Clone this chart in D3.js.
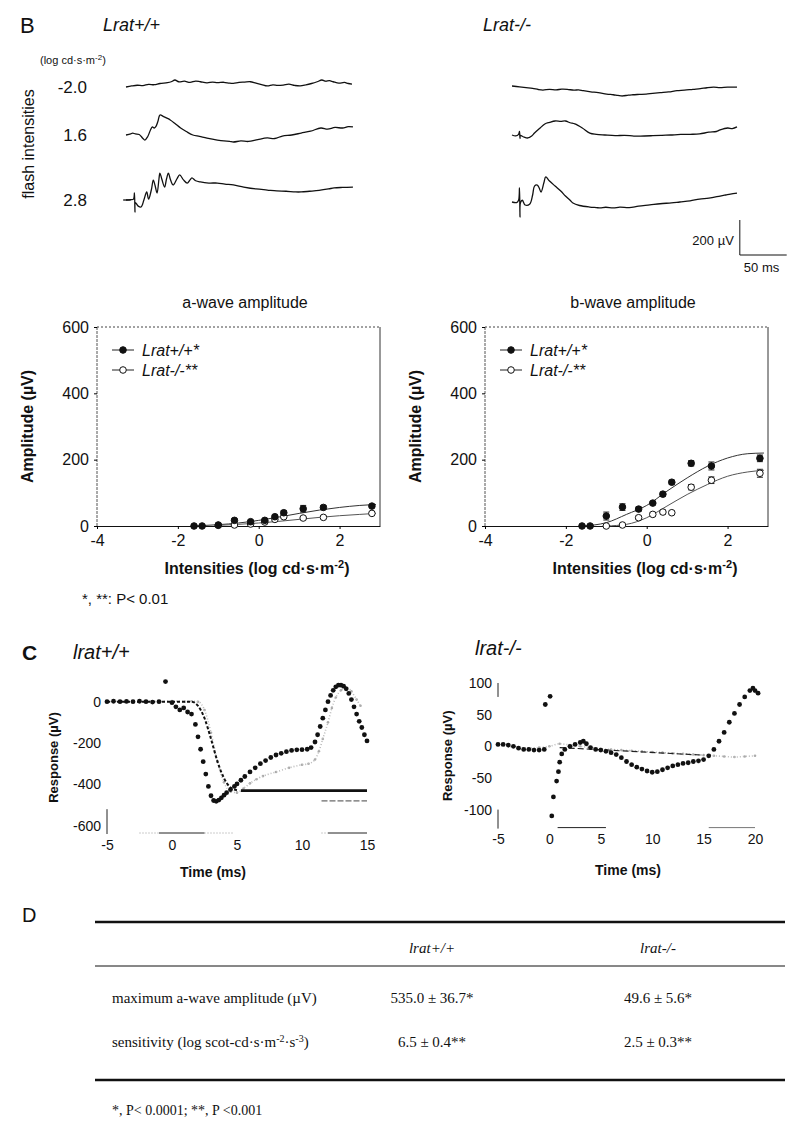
<!DOCTYPE html>
<html>
<head>
<meta charset="utf-8">
<script src="https://cdn.jsdelivr.net/npm/d3@7"></script>
<style>
  body { margin: 0; background: #fff; }
  text { fill: #111; }
</style>
</head>
<body>
<div id="chart"></div>
<script>
// ---- Panel B: ERG traces, [time ms, amplitude uV]
const flashLabels = ['-2.0', '1.6', '2.8'];
const wtLow = [[0,0],[6,6],[12,10],[18,8],[24,15],[30,13],[36,20],[44,25],[48,30],[52,40],[56,30],[62,33],[68,26],[74,34],[79,30],[86,24],[92,28],[97,25],[104,27],[110,22],[114,21],[120,26],[126,28],[132,30],[138,22],[144,14],[150,6],[156,12],[161,9],[167,11],[173,16],[179,9],[185,6],[191,12],[197,20],[203,30],[208,40],[212,33],[216,36],[220,30],[226,22],[232,26],[236,20],[240,17]];
const wtMid = [[0,0],[5,6],[7,11],[10,6],[14,3],[18,-20],[20,-29],[23,-10],[26,29],[28,46],[30,40],[32,51],[34,80],[36,114],[40,105],[44,95],[47,86],[52,66],[58,40],[64,20],[71,0],[78,-8],[86,-18],[97,-29],[104,-34],[110,-36],[114,-40],[122,-34],[130,-37],[140,-26],[150,-17],[158,-20],[166,-6],[176,0],[186,11],[196,22],[207,40],[214,34],[222,43],[230,40],[236,48],[241,46]];
const wtHigh = [[0,0],[5,2],[8,5],[9,40],[9.5,-69],[10,-15],[13,-35],[16,-40],[19,0],[22,46],[24,5],[27,60],[29,114],[31,80],[33,40],[35,120],[36,154],[38,120],[41,74],[43,120],[45,154],[47,120],[50,86],[54,120],[57,143],[61,115],[65,97],[68,115],[70,126],[74,110],[79,103],[88,97],[97,97],[105,91],[114,86],[125,74],[138,63],[150,57],[160,52],[170,50],[180,46],[186,46],[195,50],[205,55],[215,63],[221,69],[230,72],[241,74]];
const koLow = [[0,0],[8,-5],[15,-9],[22,-13],[28,-20],[33,-23],[40,-19],[47,-22],[53,-18],[59,-19],[66,-24],[71,-22],[76,-27],[84,-33],[92,-38],[101,-46],[108,-50],[113,-54],[118,-57],[124,-52],[129,-50],[136,-48],[143,-46],[150,-42],[158,-38],[167,-34],[176,-27],[184,-24],[193,-19],[201,-15],[208,-10],[215,-7],[222,-9],[230,-6],[240,-7]];
const koMid = [[0,0],[4,-5],[7,4],[8,20],[8.5,-20],[9,-3],[12,-10],[17,-17],[21,-6],[24,11],[30,40],[35,63],[40,72],[46,80],[52,78],[57,80],[62,70],[67,63],[75,40],[83,11],[90,4],[99,0],[110,-4],[120,-2],[130,-6],[137,-6],[150,-4],[160,-2],[169,0],[180,3],[190,4],[200,6],[210,16],[218,20],[222,29],[230,40],[235,37],[240,46]];
const koHigh = [[0,0],[5,-3],[7,10],[8,80],[8.5,-86],[9,-5],[11,10],[14,-17],[19,-11],[22,40],[24,91],[27,97],[29,80],[31,57],[34,110],[36,143],[40,120],[46,91],[52,63],[57,34],[62,10],[65,-6],[72,-20],[83,-29],[90,-32],[94,-34],[100,-30],[108,-34],[115,-29],[125,-32],[135,-24],[147,-17],[158,-10],[170,-5],[179,0],[190,6],[200,17],[210,22],[222,34],[228,40],[233,45],[240,51]];
const scaleBarMs = 50;
const scaleBarUV = 200;

// ---- Panel B: amplitude vs intensity
const intensities = [-1.6, -1.4, -1.0, -0.6, -0.2, 0.15, 0.4, 0.62, 1.1, 1.6, 2.8];
const aWaveWT = [0, 0, 3, 17, 13, 17, 28, 40, 52, 56, 60];
const aWaveWTErr = [1, 1, 1, 4, 3, 3, 4, 6, 10, 6, 3];
const aWaveKO = [null, null, 2, 3, 6, 12, 20, 28, 24, 26, 38];
const aWaveKOErr = [0, 0, 2, 2, 2, 3, 3, 4, 4, 4, 3];
const bWaveWT = [0, 0, 30, 57, 51, 69, 96, 132, 189, 181, 204];
const bWaveWTErr = [2, 2, 12, 10, 6, 5, 6, 6, 8, 12, 10];
const bWaveKO = [null, null, 0, 3, 25, 35, 42, 40, 117, 138, 159];
const bWaveKOErr = [0, 0, 2, 2, 5, 6, 6, 5, 8, 10, 12];
const fitX = [-1.6, -1.0, -0.5, 0, 0.5, 1, 1.5, 2, 2.5, 2.9];
const aFitWT = [0, 4, 9, 17, 27, 38, 48, 56, 62, 65];
const aFitKO = [0, 2, 5, 9, 14, 20, 26, 31, 35, 38];
const bFitWT = [0, 10, 35, 62, 105, 145, 180, 205, 218, 220];
const bFitKO = [0, 0, 5, 25, 60, 95, 125, 150, 163, 168];
const ampTicks = [0, 200, 400, 600];
const intTicks = [-4, -2, 0, 2];

// ---- Panel C: a-wave leading edge, [time ms, response uV]
const cWTdots = [[-5,0],[-4.5,2],[-4,0],[-3.5,1],[-3,0],[-2.5,2],[-2,0],[-1.5,-2],[-1,0],[-0.5,97],[0,-5],[0.3,-25],[0.6,-40],[0.9,-30],[1.2,-50],[1.5,-60],[1.8,-110],[2,-170],[2.2,-230],[2.4,-290],[2.6,-350],[2.8,-410],[3,-455],[3.2,-478],[3.4,-482],[3.6,-476],[3.8,-465],[4,-452],[4.2,-440],[4.5,-425],[4.8,-410],[5,-398],[5.3,-380],[5.6,-362],[6,-340],[6.4,-320],[6.8,-300],[7.2,-285],[7.6,-270],[8,-258],[8.4,-250],[8.8,-242],[9.2,-236],[9.6,-233],[10,-232],[10.4,-230],[10.7,-222],[11,-195],[11.2,-160],[11.4,-120],[11.6,-80],[11.8,-40],[12,0],[12.2,30],[12.4,55],[12.6,72],[12.8,80],[13,80],[13.2,75],[13.4,62],[13.6,40],[13.8,10],[14,-25],[14.2,-60],[14.4,-95],[14.6,-125],[14.8,-160],[15,-190]];
const cWTgray = [[-5,0],[-4,2],[-3,0],[-2,1],[-1,0],[0,3],[1,0],[1.5,2],[2,0],[2.5,-40],[3,-150],[3.5,-290],[4,-390],[4.5,-435],[5,-440],[5.5,-420],[6,-395],[6.5,-375],[7,-360],[8,-340],[9,-320],[10,-305],[10.5,-300],[11,-280],[11.3,-240],[11.6,-180],[12,-100],[12.3,-30],[12.6,20],[13,55],[13.4,70],[13.8,50],[14.2,10],[14.5,-20]];
const cWTfit = [[-5,0],[1.5,0],[2,-20],[2.5,-80],[3,-180],[3.5,-290],[4,-370],[4.5,-415],[5,-428]];
const cWTplateau = [[5.3,-430],[15,-430]];
const cWTlow = [[11.5,-480],[15,-480]];
const cKOdots = [[-5,3],[-4.5,3],[-4,2],[-3.5,0],[-3,-3],[-2.5,-5],[-2,-5],[-1.5,-6],[-1,-6],[-0.5,-5],[-0.4,66],[0.07,79],[0.23,-110],[0.39,-80],[0.7,-55],[0.88,-40],[1,-25],[1.2,-12],[1.5,-5],[2,0],[2.5,3],[3,6],[3.3,8],[3.6,4],[4,-2],[4.5,-5],[5,-6],[5.5,-8],[6,-10],[6.5,-13],[7,-18],[7.5,-24],[8,-29],[8.5,-33],[9,-36],[9.5,-39],[10,-41],[10.5,-40],[11,-37],[11.5,-34],[12,-31],[12.5,-29],[13,-27],[13.5,-26],[14,-24],[14.5,-23],[15,-21],[15.5,-15],[16,-5],[16.5,8],[17,22],[17.5,38],[18,52],[18.5,66],[19,78],[19.5,88],[19.8,92],[20,88],[20.3,84]];
const cKOgray = [[-5,2],[-4,0],[-3,-2],[-2,-3],[-1,-2],[0,0],[1,4],[2,2],[3,0],[4,-2],[5,-4],[6,-5],[7,-6],[8,-7],[9,-8],[10,-9],[11,-10],[12,-11],[13,-12],[14,-13],[15,-14],[16,-15],[17,-16],[18,-17],[19,-16],[20,-15]];
const cKOfit = [[1,-2],[15,-14]];
const cWTyTicks = [0, -200, -400, -600];
const cWTxTicks = [-5, 0, 5, 10, 15];
const cKOyTicks = [100, 50, 0, -50, -100];
const cKOxTicks = [-5, 0, 5, 10, 15, 20];

// ---- Panel D: table
const tableHeaders = ['lrat+/+', 'lrat-/-'];
const tableWT = ['535.0 \u00b1 36.7*', '6.5 \u00b1 0.4**'];
const tableKO = ['49.6 \u00b1 5.6*', '2.5 \u00b1 0.3**'];

const sans = '"Liberation Sans", Arial, sans-serif';
const serif = '"Liberation Serif", "Times New Roman", serif';

const svg = d3.select('#chart').append('svg')
  .attr('width', 800)
  .attr('height', 1138)
  .style('font-family', sans);

// ================= Panel B traces =================
svg.append('text').attr('x', 20).attr('y', 33).attr('font-size', '22px').text('B');
svg.append('text').attr('x', 103).attr('y', 31).attr('font-size', '18px').attr('font-style', 'italic').text('Lrat+/+');
svg.append('text').attr('x', 483).attr('y', 31).attr('font-size', '18px').attr('font-style', 'italic').text('Lrat-/-');

let unit = svg.append('text').attr('x', 40).attr('y', 64).attr('font-size', '11px').text('(log cd\u00b7s\u00b7m');
unit.append('tspan').attr('dy', -4).attr('font-size', '8px').text('-2');
unit.append('tspan').attr('dy', 4).text(')');

svg.append('text')
  .attr('transform', 'translate(34, 144) rotate(-90)')
  .attr('text-anchor', 'middle')
  .attr('font-size', '16px')
  .text('flash intensities');

const wtBase = [87, 135, 200];
const koBase = [86, 135, 202];

const traceXwt = d3.scaleLinear().domain([0, 240]).range([126, 352]);
const traceXko = d3.scaleLinear().domain([0, 240]).range([512, 737]);
const traceY = function(base){
  return d3.scaleLinear().domain([0, 200]).range([base, base - 35]);
};

flashLabels.forEach(function(lab, i){
  svg.append('text')
    .attr('x', 87).attr('y', wtBase[i] + 6)
    .attr('text-anchor', 'end')
    .attr('font-size', '17px')
    .text(lab);
});

function drawTrace(data, xs, base){
  let ys = traceY(base);
  svg.append('path')
    .datum(data)
    .attr('fill', 'none')
    .attr('stroke', '#111')
    .attr('stroke-width', 1.3)
    .attr('stroke-linejoin', 'round')
    .attr('d', d3.line().curve(d3.curveCatmullRom.alpha(0.5)).x(d => xs(d[0])).y(d => ys(d[1])));
}

[wtLow, wtMid, wtHigh].forEach((t, i) => drawTrace(t, traceXwt, wtBase[i]));
[koLow, koMid, koHigh].forEach((t, i) => drawTrace(t, traceXko, koBase[i]));

// small start tick on the brightest wild-type trace
svg.append('line')
  .attr('x1', traceXwt(-3)).attr('x2', traceXwt(5))
  .attr('y1', wtBase[2]).attr('y2', wtBase[2])
  .attr('stroke', '#111').attr('stroke-width', 1.3);

// scale bar
const sbY = traceY(255);
const sbT = 243;
svg.append('path')
  .attr('fill', 'none').attr('stroke', '#111').attr('stroke-width', 1)
  .attr('d', 'M' + traceXko(sbT) + ',' + sbY(scaleBarUV) + 'V' + sbY(0) + 'H' + traceXko(sbT + scaleBarMs));
svg.append('text').attr('x', traceXko(sbT) - 6).attr('y', 245).attr('text-anchor', 'end').attr('font-size', '13px').text('200 \u00b5V');
svg.append('text').attr('x', traceXko(sbT) + 4).attr('y', 272).attr('font-size', '13px').text('50 ms');

// ================= amplitude charts =================
function ampChart(left, title, wt, wtErr, ko, koErr, fitWT, fitKO){
  let x = d3.scaleLinear().domain([-4, 3]).range([left, left + 283]);
  let y = d3.scaleLinear().domain([0, 600]).range([526, 327]);
  let g = svg.append('g');

  g.append('text')
    .attr('x', left + 148).attr('y', 308)
    .attr('text-anchor', 'middle').attr('font-size', '16px')
    .text(title);

  // frame
  g.append('line').attr('x1', x(-4)).attr('x2', x(3)).attr('y1', y(600)).attr('y2', y(600))
    .attr('stroke', '#444').attr('stroke-width', 1).attr('stroke-dasharray', '2,2');
  g.append('line').attr('x1', x(-4)).attr('x2', x(-4)).attr('y1', y(600)).attr('y2', y(0))
    .attr('stroke', '#555').attr('stroke-width', 1).attr('stroke-dasharray', '3,1');
  g.append('line').attr('x1', x(3)).attr('x2', x(3)).attr('y1', y(600)).attr('y2', y(0))
    .attr('stroke', '#333').attr('stroke-width', 1);

  let xAxis = g.append('g')
    .attr('transform', 'translate(0,' + y(0) + ')')
    .call(d3.axisBottom(x).tickValues(intTicks).tickSize(3).tickSizeOuter(0).tickFormat(d => String(d)));
  xAxis.selectAll('text').attr('font-size', '16px').attr('font-family', sans).attr('fill', '#111').attr('dy', '0.9em');
  xAxis.select('.domain').attr('stroke', '#111');

  let yAxis = g.append('g')
    .attr('transform', 'translate(' + x(-4) + ',0)')
    .call(d3.axisLeft(y).tickValues(ampTicks).tickSize(3).tickSizeOuter(0));
  yAxis.selectAll('text').attr('font-size', '16px').attr('font-family', sans).attr('fill', '#111').attr('dx', '-2');
  yAxis.select('.domain').remove();

  g.append('text')
    .attr('transform', 'translate(' + (left - 64) + ',' + ((y(0) + y(600)) / 2) + ') rotate(-90)')
    .attr('text-anchor', 'middle').attr('font-size', '16px').attr('font-weight', 'bold')
    .text('Amplitude (\u00b5V)');

  let xt = g.append('text')
    .attr('x', left + 160).attr('y', 574)
    .attr('text-anchor', 'middle').attr('font-size', '16px').attr('font-weight', 'bold')
    .text('Intensities (log cd\u00b7s\u00b7m');
  xt.append('tspan').attr('dy', -6).attr('font-size', '11px').text('-2');
  xt.append('tspan').attr('dy', 6).text(')');

  // fitted curves
  let fitLine = d3.line().curve(d3.curveMonotoneX).x((d, i) => x(fitX[i])).y(d => y(d));
  g.append('path').datum(fitWT).attr('fill', 'none').attr('stroke', '#333').attr('stroke-width', 1).attr('d', fitLine);
  g.append('path').datum(fitKO.map((v, i) => [fitX[i], v]).filter(d => d[0] >= -1.0))
    .attr('fill', 'none').attr('stroke', '#555').attr('stroke-width', 1)
    .attr('d', d3.line().curve(d3.curveMonotoneX).x(d => x(d[0])).y(d => y(d[1])));

  function points(vals, errs, filled){
    let pts = intensities.map((v, i) => ({ x: v, y: vals[i], e: errs[i] })).filter(d => d.y !== null);
    let pg = g.append('g');
    pts.forEach(function(d){
      if (d.e > 1) {
        pg.append('path')
          .attr('fill', 'none').attr('stroke', '#222').attr('stroke-width', 1)
          .attr('d', 'M' + (x(d.x) - 3) + ',' + y(d.y + d.e) + 'h6M' + x(d.x) + ',' + y(d.y + d.e) +
            'V' + y(Math.max(0, d.y - d.e)) + 'M' + (x(d.x) - 3) + ',' + y(Math.max(0, d.y - d.e)) + 'h6');
      }
    });
    pg.selectAll('circle').data(pts).enter().append('circle')
      .attr('cx', d => x(d.x)).attr('cy', d => y(d.y)).attr('r', 3.3)
      .attr('fill', filled ? '#111' : '#fff')
      .attr('stroke', '#111').attr('stroke-width', 1);
  }
  points(ko, koErr, false);
  points(wt, wtErr, true);

  // legend
  const legend = [['Lrat+/+*', true], ['Lrat-/-**', false]];
  legend.forEach(function(l, i){
    let ly = 350 + i * 20;
    let lx = left + 15;
    g.append('line').attr('x1', lx).attr('x2', lx + 22).attr('y1', ly).attr('y2', ly).attr('stroke', '#222');
    g.append('circle').attr('cx', lx + 11).attr('cy', ly).attr('r', 3.3)
      .attr('fill', l[1] ? '#111' : '#fff').attr('stroke', '#111');
    g.append('text').attr('x', lx + 30).attr('y', ly + 6)
      .attr('font-size', '16px').attr('font-style', 'italic').text(l[0]);
  });
}

ampChart(97, 'a-wave amplitude', aWaveWT, aWaveWTErr, aWaveKO, aWaveKOErr, aFitWT, aFitKO);
ampChart(485, 'b-wave amplitude', bWaveWT, bWaveWTErr, bWaveKO, bWaveKOErr, bFitWT, bFitKO);

svg.append('text').attr('x', 82).attr('y', 604).attr('font-size', '15px').text('*, **: P< 0.01');

// ================= Panel C =================
svg.append('text').attr('x', 22).attr('y', 660).attr('font-size', '21px').attr('font-weight', 'bold').text('C');
svg.append('text').attr('x', 73).attr('y', 659).attr('font-size', '20px').attr('font-style', 'italic').text('lrat+/+');
svg.append('text').attr('x', 475).attr('y', 655).attr('font-size', '20px').attr('font-style', 'italic').text('lrat-/-');

function cPanel(opts){
  let x = d3.scaleLinear().domain(opts.xDomain).range(opts.xRange);
  let y = d3.scaleLinear().domain(opts.yDomain).range(opts.yRange);
  let g = svg.append('g');

  let xa = g.append('g')
    .attr('transform', 'translate(0,' + opts.yRange[0] + ')')
    .call(d3.axisBottom(x).tickValues(opts.xTicks).tickSize(0).tickPadding(opts.xPad).tickFormat(d => String(d)));
  xa.select('.domain').remove();
  xa.selectAll('text').attr('font-size', '14px').attr('font-family', sans).attr('fill', '#111');

  let ya = g.append('g')
    .attr('transform', 'translate(' + opts.xRange[0] + ',0)')
    .call(d3.axisLeft(y).tickValues(opts.yTicks).tickSize(0).tickPadding(6).tickFormat(d => String(d)));
  ya.select('.domain').remove();
  ya.selectAll('text').attr('font-size', '14px').attr('font-family', sans).attr('fill', '#111');

  // fragments of the axis lines that survive in the scan
  opts.yAxisBits.forEach(function(b){
    g.append('line').attr('x1', opts.xRange[0]).attr('x2', opts.xRange[0])
      .attr('y1', y(b[0])).attr('y2', y(b[1])).attr('stroke', '#222').attr('stroke-width', 1);
  });
  opts.xAxisBits.forEach(function(b){
    g.append('line').attr('x1', x(b[0])).attr('x2', x(b[1]))
      .attr('y1', opts.yRange[0] - 1).attr('y2', opts.yRange[0] - 1)
      .attr('stroke', b[2]).attr('stroke-width', 1).attr('stroke-dasharray', b[3]);
  });

  g.append('text')
    .attr('transform', 'translate(' + opts.yTitleX + ',' + ((opts.yRange[0] + opts.yRange[1]) / 2) + ') rotate(-90)')
    .attr('text-anchor', 'middle').attr('font-size', '13px').attr('font-weight', 'bold')
    .text('Response (\u00b5V)');
  g.append('text')
    .attr('x', opts.xTitleX).attr('y', opts.xTitleY)
    .attr('text-anchor', 'middle').attr('font-size', '14px').attr('font-weight', 'bold')
    .text('Time (ms)');

  let line = d3.line().x(d => x(d[0])).y(d => y(d[1]));

  // gray dotted response
  g.selectAll('.gdot').data(opts.gray).enter().append('circle')
    .attr('cx', d => x(d[0])).attr('cy', d => y(d[1])).attr('r', 1.3).attr('fill', '#aaa');
  g.append('path').datum(opts.gray).attr('fill', 'none').attr('stroke', '#bbb')
    .attr('stroke-width', 1.6).attr('stroke-dasharray', '1,2').attr('d', line.curve(d3.curveMonotoneX));

  // model fits
  opts.fits.forEach(function(f){
    g.append('path').datum(f[0]).attr('fill', 'none').attr('stroke', f[1])
      .attr('stroke-width', f[2]).attr('stroke-dasharray', f[3])
      .attr('d', d3.line().curve(d3.curveMonotoneX).x(d => x(d[0])).y(d => y(d[1])));
  });

  // black recorded dots
  g.selectAll('.bdot').data(opts.dots).enter().append('circle')
    .attr('cx', d => x(d[0])).attr('cy', d => y(d[1])).attr('r', 2.4).attr('fill', '#111');
}

cPanel({
  xDomain: [-5, 15], xRange: [107, 367],
  yDomain: [-640, 100], yRange: [834, 681],
  xTicks: cWTxTicks, yTicks: cWTyTicks, xPad: 6,
  yAxisBits: [[-520, -640]],
  xAxisBits: [[-2.5, -1, '#999', '1,2'], [-1, 2.5, '#222', null], [2.5, 4.8, '#999', '1,2'], [11.5, 12, '#999', '1,2'], [12, 15, '#222', null]],
  yTitleX: 58, xTitleX: 213, xTitleY: 877,
  gray: cWTgray, dots: cWTdots,
  fits: [[cWTfit, '#111', 2, '3,2'], [cWTplateau, '#111', 2.6, null], [cWTlow, '#444', 1, '6,2']]
});

cPanel({
  xDomain: [-5, 20], xRange: [498, 755],
  yDomain: [-130, 100], yRange: [828.6, 683],
  xTicks: cKOxTicks, yTicks: cKOyTicks, xPad: 5,
  yAxisBits: [[100, 78], [-100, -130]],
  xAxisBits: [[0.8, 5.5, '#222', null], [15.5, 20, '#777', null]],
  yTitleX: 452, xTitleX: 628, xTitleY: 875,
  gray: cKOgray, dots: cKOdots,
  fits: [[cKOfit, '#222', 1.2, '6,3']]
});

// ================= Panel D table =================
svg.append('text').attr('x', 22).attr('y', 922).attr('font-size', '20px').text('D');

const colX = [112, 432, 658];
const rule = function(yy, w){
  svg.append('line').attr('x1', 95).attr('x2', 785).attr('y1', yy).attr('y2', yy)
    .attr('stroke', '#111').attr('stroke-width', w);
};
rule(922, 2.5);
rule(966, 1);
rule(1080, 2.5);

tableHeaders.forEach(function(h, i){
  svg.append('text').attr('x', colX[i + 1]).attr('y', 953)
    .attr('text-anchor', 'middle').attr('font-family', serif)
    .attr('font-size', '15px').attr('font-style', 'italic').text(h);
});

const rowY = [1003, 1047];
let r1 = svg.append('text').attr('x', colX[0]).attr('y', rowY[0])
  .attr('font-family', serif).attr('font-size', '15px').text('maximum a-wave amplitude (\u00b5V)');
let r2 = svg.append('text').attr('x', colX[0]).attr('y', rowY[1])
  .attr('font-family', serif).attr('font-size', '15px').text('sensitivity (log scot-cd\u00b7s\u00b7m');
r2.append('tspan').attr('dy', -5).attr('font-size', '10px').text('-2');
r2.append('tspan').attr('dy', 5).text('\u00b7s');
r2.append('tspan').attr('dy', -5).attr('font-size', '10px').text('-3');
r2.append('tspan').attr('dy', 5).text(')');

rowY.forEach(function(yy, i){
  svg.append('text').attr('x', colX[1]).attr('y', yy).attr('text-anchor', 'middle')
    .attr('font-family', serif).attr('font-size', '15px').text(tableWT[i]);
  svg.append('text').attr('x', colX[2]).attr('y', yy).attr('text-anchor', 'middle')
    .attr('font-family', serif).attr('font-size', '15px').text(tableKO[i]);
});

svg.append('text').attr('x', colX[0]).attr('y', 1115)
  .attr('font-family', serif).attr('font-size', '14px').text('*, P< 0.0001; **, P <0.001');
</script>
</body>
</html>
